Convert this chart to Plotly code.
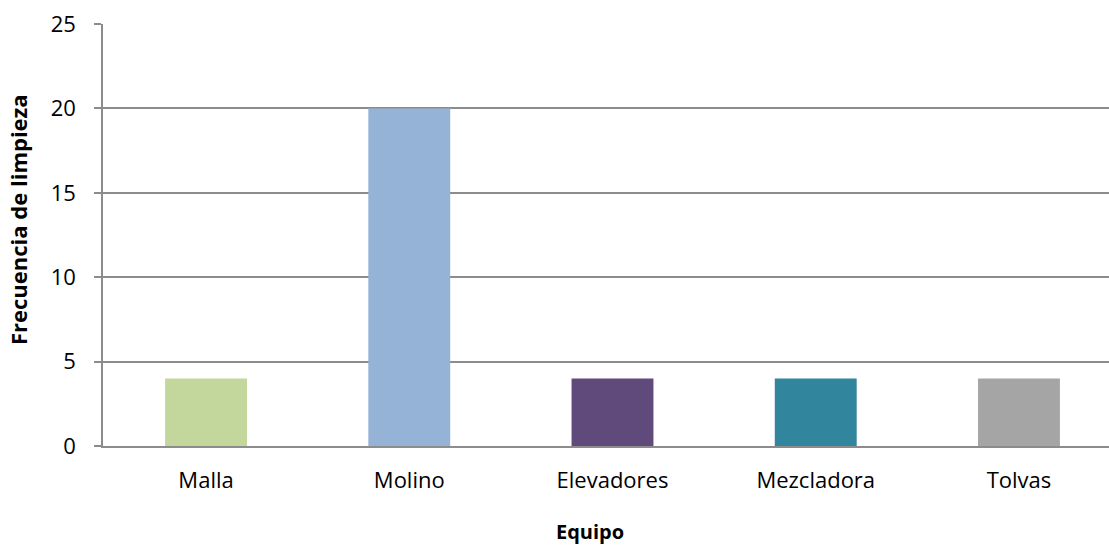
import plotly.graph_objects as go

categories = ["Malla", "Molino", "Elevadores", "Mezcladora", "Tolvas"]
values = [4, 20, 4, 4, 4]
colors = ["#C3D69B", "#95B3D7", "#604A7B", "#31859C", "#A5A5A5"]
y_ticks = [0, 5, 10, 15, 20, 25]

fig = go.Figure(go.Bar(x=categories, y=values, marker=dict(color=colors, line=dict(width=0)), width=0.403))

font = "Open Sans"
fig.update_layout(
    width=1109, height=547,
    margin=dict(l=103, r=0, t=24, b=101),
    paper_bgcolor="white", plot_bgcolor="white",
    showlegend=False,
    font=dict(family=font, color="#000000", size=22),
)
fig.update_xaxes(
    range=[-0.507, 4.443],
    showgrid=False, showline=True, linecolor="#8C8C8C", linewidth=1.5,
    ticks="", tickfont=dict(size=22, family=font), ticklabelstandoff=14,
)
fig.update_yaxes(
    range=[0, 25], tickvals=y_ticks, showgrid=True, gridcolor="#8C8C8C", gridwidth=1.5,
    showline=True, linecolor="#8C8C8C", linewidth=1.5,
    ticks="outside", ticklen=7, tickcolor="#8C8C8C", tickwidth=1.5,
    tickfont=dict(size=22, family=font), zeroline=False, ticklabelstandoff=14,
)
fig.add_annotation(
    text="<b>Equipo</b>", xref="paper", yref="paper", x=(590 - 103) / 1006, y=-(531 - 446) / 422,
    xanchor="center", yanchor="middle", showarrow=False, font=dict(size=20, family=font),
)
fig.add_annotation(
    text="<b>Frecuencia de limpieza</b>", xref="paper", yref="paper", x=-(103 - 18) / 1006, y=(446 - 220) / 422,
    xanchor="center", yanchor="middle", showarrow=False, textangle=-90, font=dict(size=22, family=font),
)
fig.write_html("out.html")
